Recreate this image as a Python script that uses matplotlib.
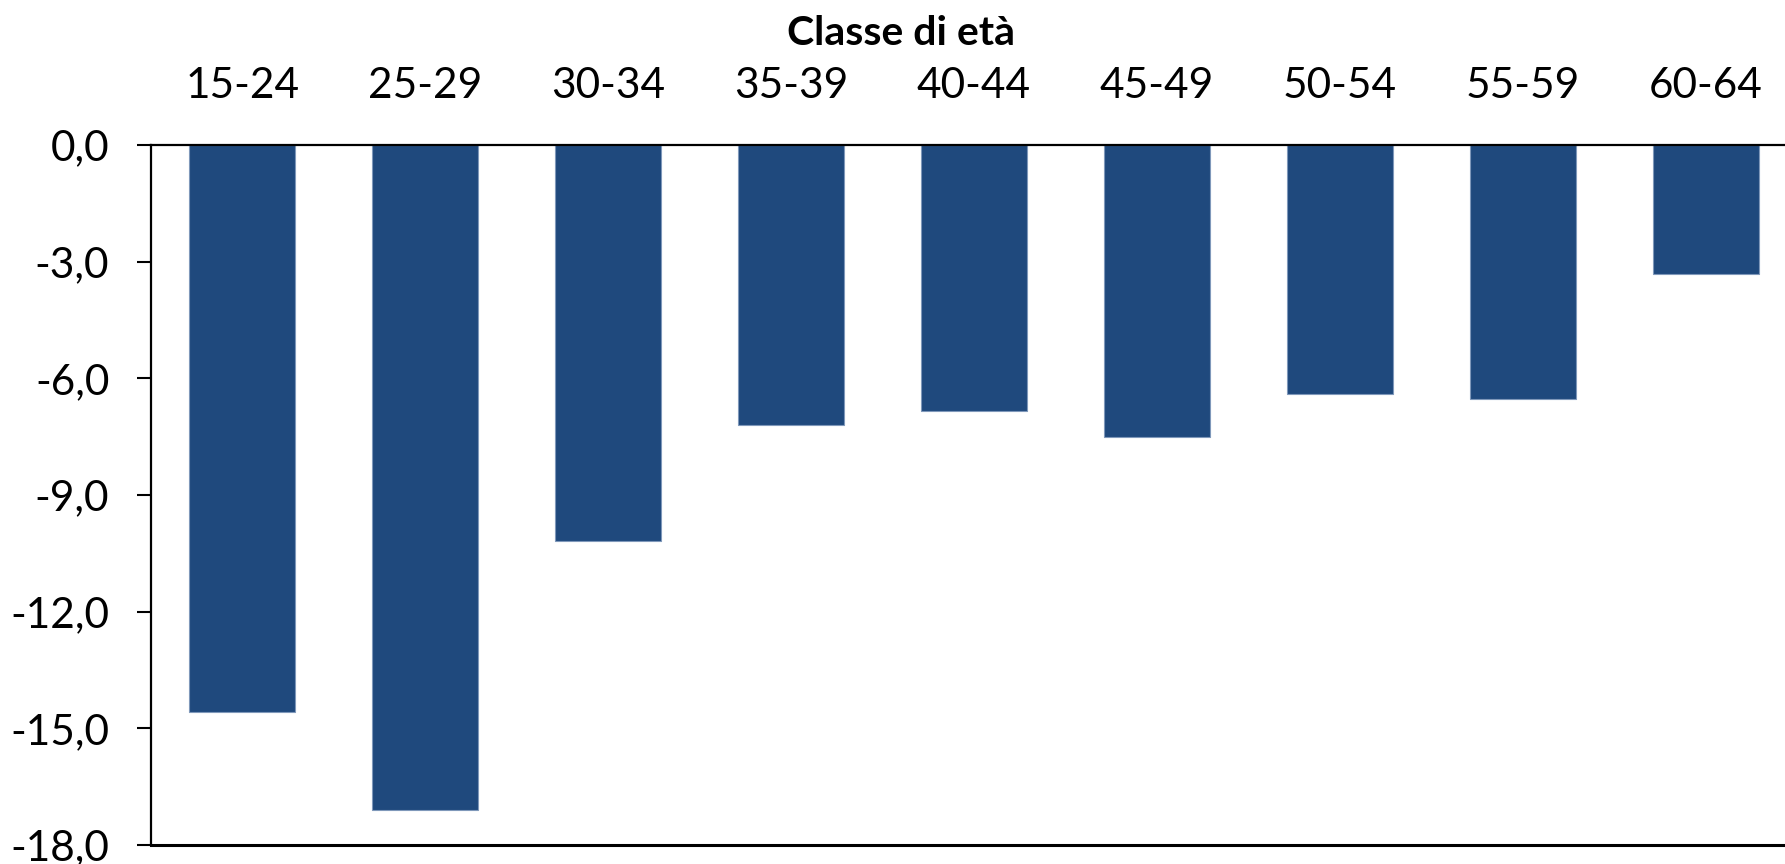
import numpy as np
import matplotlib.pyplot as plt

plt.rcParams['font.family'] = ['Lato', 'DejaVu Sans']

classi = ['15-24', '25-29', '30-34', '35-39', '40-44', '45-49', '50-54', '55-59', '60-64']
variazione = [-14.57, -17.10, -10.18, -7.21, -6.85, -7.52, -6.40, -6.53, -3.32]
yticks = [0, -3, -6, -9, -12, -15, -18]

fig = plt.figure(figsize=(17.85, 8.64), dpi=100)
# the plot area runs a little past the right edge of the figure
ax = fig.add_axes([151 / 1785, 19 / 864, (1797 - 151) / 1785, 700 / 864])

x = np.arange(len(classi))
ax.bar(x, variazione, width=0.58, color='#1f497d', edgecolor='#7f98ba', linewidth=0.8, zorder=2)

ax.set_xlim(-0.5, len(classi) - 0.5)
ax.set_ylim(-18, 0)

ax.xaxis.tick_top()
ax.set_xticks(x)
ax.set_xticklabels(classi)
ax.tick_params(axis='x', length=0, pad=29, labelsize=30.5)

ax.set_yticks(yticks)
ax.set_yticklabels([('%.1f' % v).replace('.', ',') for v in yticks])
ax.tick_params(axis='y', length=10, width=1.5, pad=20, labelsize=30.5)

ax.spines['right'].set_visible(False)
for side in ['left', 'top']:
    ax.spines[side].set_linewidth(1.6)
ax.spines['bottom'].set_linewidth(2.2)

fig.text(0.505, 0.961, 'Classe di età', ha='center', va='center', fontsize=29.5, fontweight='bold')

fig.savefig('out.png', dpi=100)
